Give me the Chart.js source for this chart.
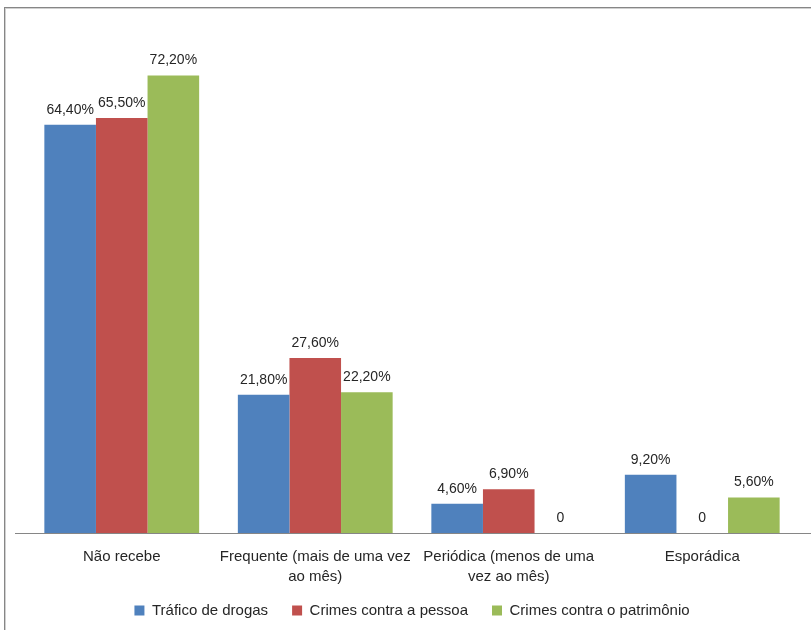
<!DOCTYPE html>
<html>
<head>
<meta charset="utf-8">
<script src="https://cdn.jsdelivr.net/npm/chart.js@4.4.1/dist/chart.umd.min.js"></script>
<style>
  html, body { margin: 0; padding: 0; background: #fff; overflow: hidden; }
  #frame { position: absolute; left: 4px; top: 7px; width: 900px; height: 700px;
           border-left: 1px solid #868686; border-top: 1px solid #868686;
           box-shadow: inset 1px 1px 0 #d0d0d0; }
  #wrap { position: absolute; left: 0; top: 0; width: 811px; height: 630px; }
</style>
</head>
<body>
<div id="frame"></div>
<div id="wrap"><canvas id="chart-freq"></canvas></div>
<script>
var categories = [
    'Não recebe',
    ['Frequente (mais de uma vez', 'ao mês)'],
    ['Periódica (menos de uma', 'vez ao mês)'],
    'Esporádica'
];
var traficoDrogas = [64.4, 21.8, 4.6, 9.2];
var crimesPessoa = [65.5, 27.6, 6.9, 0];
var crimesPatrimonio = [72.2, 22.2, 0, 5.6];

var seriesNames = ['Tráfico de drogas', 'Crimes contra a pessoa', 'Crimes contra o patrimônio'];
var seriesColors = ['#4F81BD', '#C0504D', '#9BBB59'];

var fontFamily = "'Liberation Sans', Arial, sans-serif";

function fmtValue(v) {
    if (v === 0) return '0';
    return v.toFixed(2).replace('.', ',') + '%';
}

// draws the value above each bar, Excel style
var valueLabels = {
    id: 'valueLabels',
    afterDatasetsDraw(chart) {
        var ctx = chart.ctx;
        ctx.save();
        ctx.font = '14px ' + fontFamily;
        ctx.fillStyle = '#262626';
        ctx.textAlign = 'center';
        ctx.textBaseline = 'middle';
        chart.data.datasets.forEach((ds, i) => {
            var meta = chart.getDatasetMeta(i);
            meta.data.forEach((bar, j) => {
                ctx.fillText(fmtValue(ds.data[j]), bar.x, bar.y - 15);
            });
        });
        ctx.restore();
    }
};

// the category axis line runs a bit past the plot area
var axisLine = {
    id: 'axisLine',
    afterDraw(chart) {
        var ctx = chart.ctx;
        var y = Math.round(chart.scales.y.getPixelForValue(0)) + 0.5;
        ctx.save();
        ctx.strokeStyle = '#868686';
        ctx.lineWidth = 1;
        ctx.beginPath();
        ctx.moveTo(chart.chartArea.left - 10, y);
        ctx.lineTo(chart.width, y);
        ctx.stroke();
        ctx.restore();
    }
};

var chartData = {
    labels: categories,
    datasets: [traficoDrogas, crimesPessoa, crimesPatrimonio].map((d, i) => ({
        label: seriesNames[i],
        data: d,
        backgroundColor: seriesColors[i],
        borderWidth: 0,
        categoryPercentage: 0.8,
        barPercentage: 1.0
    }))
};

var ctx1 = document.getElementById('chart-freq').getContext('2d');
var chart1 = new Chart(ctx1, {
    type: 'bar',
    data: chartData,
    options: {
        responsive: true,
        maintainAspectRatio: false,
        animation: false,
        layout: { padding: { left: 25, right: 12, top: 26, bottom: 2 } },
        plugins: {
            tooltip: { enabled: false },
            legend: {
                position: 'bottom',
                labels: {
                    font: { family: fontFamily, size: 15 },
                    color: '#262626',
                    boxWidth: 10,
                    boxHeight: 10,
                    padding: 24
                }
            }
        },
        scales: {
            x: {
                grid: { display: false, drawTicks: false },
                border: { display: false },
                ticks: {
                    font: { family: fontFamily, size: 15, lineHeight: 1.34 },
                    color: '#262626',
                    padding: 14,
                    maxRotation: 0,
                    autoSkip: false
                },
                afterFit: function (axis) {
                    axis.height = 46;
                    // let the second label line run into the legend's top padding
                    axis._computeLabelArea = function () { return undefined; };
                }
            },
            y: {
                display: false,
                min: 0,
                max: 80
            }
        }
    },
    plugins: [valueLabels, axisLine]
});
</script>
</body>
</html>
